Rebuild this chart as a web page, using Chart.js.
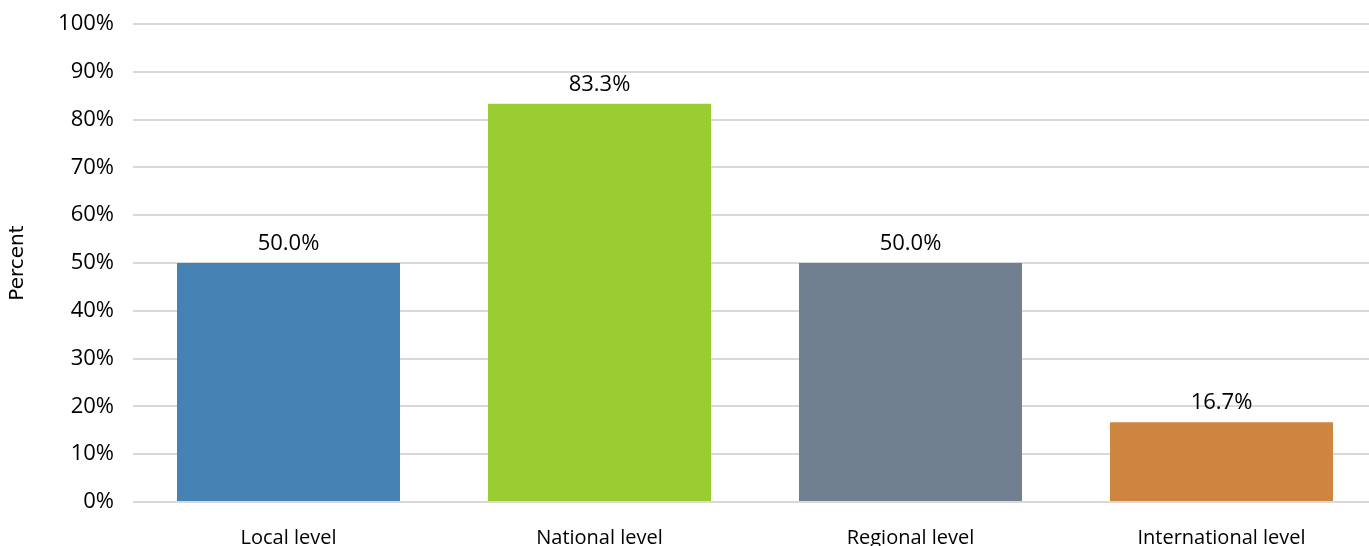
<!DOCTYPE html>
<html>
<head>
<meta charset="utf-8">
<script src="https://cdn.jsdelivr.net/npm/chart.js@4.4.0/dist/chart.umd.min.js"></script>
<style>
  html, body { margin: 0; padding: 0; overflow: hidden; background: #fff; }
  #wrap { width: 1380px; height: 546px; }
</style>
</head>
<body>
<div id="wrap"><canvas id="myChart" width="1380" height="546"></canvas></div>
<script>
// categories and shares (percent)
const levels = ['Local level', 'National level', 'Regional level', 'International level'];
const shares = [50.0, 83.3, 50.0, 16.7];
const barColors = ['#4682B4', '#9ACD32', '#708090', '#CD853F'];
const yTicks = [0, 10, 20, 30, 40, 50, 60, 70, 80, 90, 100];

const labelFont = '"Open Sans", sans-serif';

// value text above each bar
const barValues = {
  id: 'barValues',
  afterDatasetsDraw(chart) {
    const ctx = chart.ctx;
    const meta = chart.getDatasetMeta(0);
    ctx.save();
    ctx.font = '22px ' + labelFont;
    ctx.fillStyle = '#000';
    ctx.textAlign = 'center';
    ctx.textBaseline = 'middle';
    meta.data.forEach((bar, i) => {
      ctx.fillText(shares[i].toFixed(1) + '%', bar.x, bar.y - 19);
    });
    ctx.restore();
  }
};

const ctx = document.getElementById('myChart');

new Chart(ctx, {
  type: 'bar',
  data: {
    labels: levels,
    datasets: [{
      data: shares,
      backgroundColor: barColors,
      borderWidth: 0,
      categoryPercentage: 1,
      barPercentage: 0.717
    }]
  },
  plugins: [barValues],
  options: {
    responsive: false,
    animation: false,
    layout: { padding: { top: 24, right: 3, left: 0, bottom: 0 } },
    plugins: {
      legend: { display: false },
      tooltip: { enabled: false }
    },
    scales: {
      x: {
        grid: { display: false, drawTicks: false },
        border: { display: false },
        ticks: {
          color: '#000',
          padding: 24,
          font: { family: labelFont, size: 20 },
          maxRotation: 0
        },
        afterFit(axis) { axis.height = 44; }
      },
      y: {
        min: 0,
        max: 100,
        afterBuildTicks(axis) {
          axis.ticks = yTicks.map(v => ({ value: v }));
        },
        grid: { color: '#d9d9d9', lineWidth: 2, drawTicks: false },
        border: { display: false },
        ticks: {
          color: '#000',
          padding: 19,
          font: { family: labelFont, size: 22 },
          callback: v => v + '%'
        },
        title: {
          display: true,
          text: 'Percent',
          color: '#000',
          font: { family: '"DejaVu Sans", sans-serif', size: 20 },
          padding: { top: 6, bottom: 0 }
        },
        afterFit(axis) {
          axis.width = 133;
          axis.paddingTop = 0;
          axis.paddingBottom = 0;
        }
      }
    }
  }
});
</script>
</body>
</html>
